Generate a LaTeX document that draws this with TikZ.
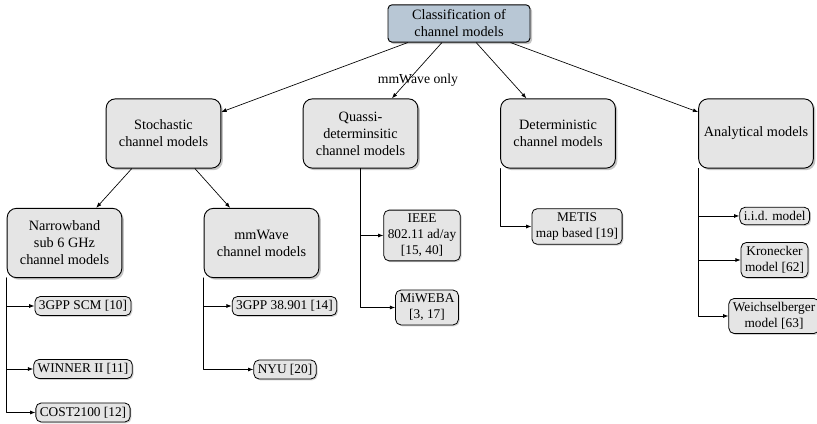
\documentclass[tikz,border=0pt]{standalone}
\usepackage{fontspec}
\setmainfont{Liberation Serif}
\usetikzlibrary{arrows.meta,shadows}
\definecolor{rootblue}{RGB}{184,199,213}

\begin{document}
\begin{tikzpicture}[scale=2.63593800,line cap=round,line join=round,
  font=\fontsize{10.7pt}{12.8pt}\selectfont,
  >={Latex[length=4pt,width=3pt]},
  catbox/.style={draw,line width=.7pt,rounded corners=7pt,fill=black!10,align=center,
    minimum width=86pt,minimum height=52pt,inner sep=3pt,
    drop shadow={shadow xshift=1.5pt,shadow yshift=-1.5pt,fill=black!45}},
  rootbox/.style={catbox,fill=rootblue,rounded corners=3pt,minimum width=106.5pt,minimum height=28pt},
  leafbox/.style={draw,line width=.6pt,rounded corners=4pt,fill=black!10,align=center,inner sep=3pt,
    font=\fontsize{10pt}{12pt}\selectfont,
    drop shadow={shadow xshift=1pt,shadow yshift=-1pt,fill=black!35}},
  feed/.style={->,line width=.5pt},
  branch/.style={->,line width=.6pt}]
\path[use as bounding box] (0.00000000,0.00000000) rectangle (8.17000000,4.24000000);
% top level
\node[rootbox] (root) at (4.59000000,4.00500000) {Classification of\\channel models};
\node[catbox] (stoch) at (1.63500000,2.90500000) {Stochastic\\channel models};
\node[catbox] (quasi) at (3.60500000,2.90500000) {Quassi-\\determinsitic\\channel models};
\node[catbox] (determ) at (5.58000000,2.90500000) {Deterministic\\channel models};
\node[catbox] (analyt) at (7.56000000,2.90500000) {Analytical models};
\node[catbox] (narrow) at (0.64500000,1.81000000) {Narrowband\\sub 6 GHz\\channel models};
\node[catbox] (mmw) at (2.61500000,1.81000000) {mmWave\\channel models};
\draw[feed] (root) -- (stoch);
\draw[feed] (root) -- node[pos=0.68,xshift=7.5pt,font=\fontsize{10.3pt}{12pt}\selectfont] {mmWave only} (quasi);
\draw[feed] (root) -- (determ);
\draw[feed] (root) -- (analyt);
\draw[feed] (stoch) -- (narrow);
\draw[feed] (stoch) -- (mmw);
% leaves
\node[leafbox] (scm) at (0.83000000,1.18000000) {3GPP SCM [10]};
\node[leafbox] (winner) at (0.83000000,0.55000000) {WINNER II [11]};
\node[leafbox] (cost) at (0.83000000,0.11500000) {COST2100 [12]};
\node[leafbox] (gpp) at (2.84500000,1.18000000) {3GPP 38.901 [14]};
\node[leafbox] (nyu) at (2.85000000,0.54500000) {NYU [20]};
\node[leafbox] (ieee) at (4.22000000,1.88500000) {IEEE\\802.11 ad/ay\\{}[15, 40]};
\node[leafbox] (miweba) at (4.27000000,1.16500000) {MiWEBA\\{}[3, 17]};
\node[leafbox] (metis) at (5.77000000,1.97500000) {METIS\\map based [19]};
\node[leafbox] (iid) at (7.74700000,2.08000000) {i.i.d. model};
\node[leafbox] (kron) at (7.74500000,1.64000000) {Kronecker\\model [62]};
\node[leafbox] (weich) at (7.74000000,1.08000000) {Weichselberger\\model [63]};
\draw[branch] (narrow.south west) |- (scm);
\draw[branch] (narrow.south west) |- (winner);
\draw[branch] (narrow.south west) |- (cost);
\draw[branch] (mmw.south west) |- (gpp);
\draw[branch] (mmw.south west) |- (nyu);
\draw[branch] (quasi.south) |- (ieee);
\draw[branch] (quasi.south) |- (miweba);
\draw[branch] (determ.south west) |- (metis);
\draw[branch] (analyt.south west) |- (iid);
\draw[branch] (analyt.south west) |- (kron);
\draw[branch] (analyt.south west) |- (weich);
\end{tikzpicture}
\end{document}
